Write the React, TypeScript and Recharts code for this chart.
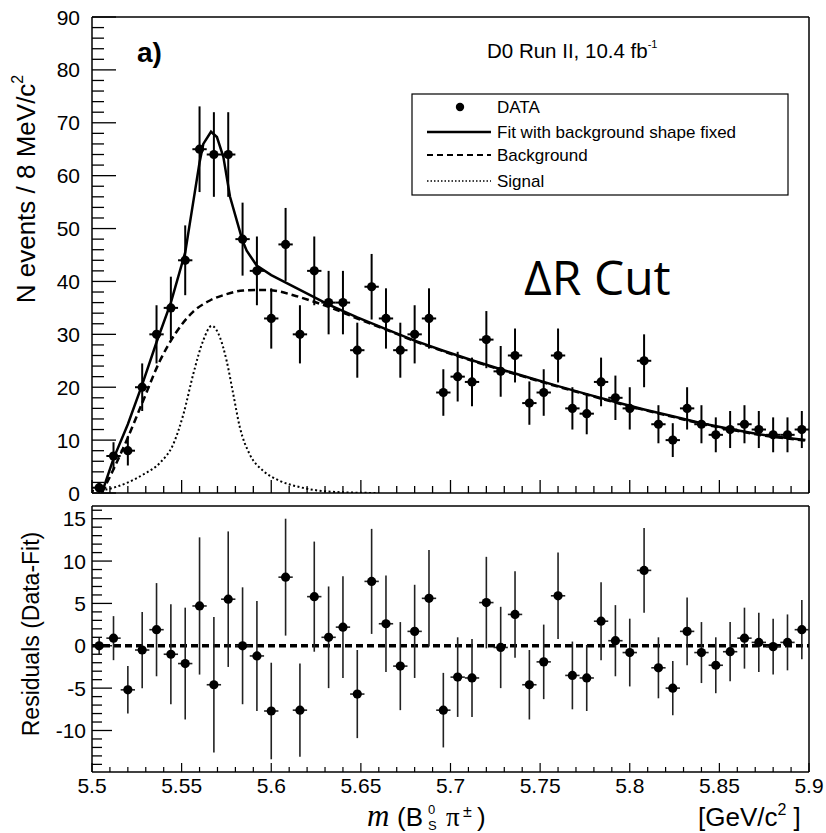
import React from 'react';
import { ComposedChart, Line, Scatter, XAxis, YAxis, ErrorBar, ReferenceLine } from 'recharts';

// ---- data ----
const binCenters = [5.504, 5.512, 5.52, 5.528, 5.536, 5.544, 5.552, 5.56, 5.568, 5.576,
  5.584, 5.592, 5.6, 5.608, 5.616, 5.624, 5.632, 5.64, 5.648, 5.656,
  5.664, 5.672, 5.68, 5.688, 5.696, 5.704, 5.712, 5.72, 5.728, 5.736,
  5.744, 5.752, 5.76, 5.768, 5.776, 5.784, 5.792, 5.8, 5.808, 5.816,
  5.824, 5.832, 5.84, 5.848, 5.856, 5.864, 5.872, 5.88, 5.888, 5.896];
const counts = [1, 7, 8, 20, 30, 35, 44, 65, 64, 64,
  48, 42, 33, 47, 30, 42, 36, 36, 27, 39,
  33, 27, 30, 33, 19, 22, 21, 29, 23, 26,
  17, 19, 26, 16, 15, 21, 18, 16, 25, 13,
  10, 16, 13, 11, 12, 13, 12, 11, 11, 12];
const countErrors = [1.0, 2.6, 2.8, 4.5, 5.5, 5.9, 6.6, 8.1, 8.0, 8.0,
  6.9, 6.5, 5.7, 6.9, 5.5, 6.5, 6.0, 6.0, 5.2, 6.2,
  5.7, 5.2, 5.5, 5.7, 4.4, 4.7, 4.6, 5.4, 4.8, 5.1,
  4.1, 4.4, 5.1, 4.0, 3.9, 4.6, 4.2, 4.0, 5.0, 3.6,
  3.2, 4.0, 3.6, 3.3, 3.5, 3.6, 3.5, 3.3, 3.3, 3.5];
const residuals = [0, 0.9, -5.2, -0.5, 1.9, -1.0, -2.1, 4.7, -4.6, 5.5,
  0, -1.2, -7.7, 8.1, -7.6, 5.8, 1.0, 2.2, -5.7, 7.6,
  2.6, -2.4, 1.7, 5.6, -7.6, -3.7, -3.8, 5.1, -0.2, 3.7,
  -4.6, -1.9, 5.9, -3.5, -3.8, 2.9, 0.6, -0.8, 8.9, -2.6,
  -5.0, 1.7, -0.8, -2.3, -0.7, 0.9, 0.4, -0.1, 0.4, 1.9];
const binHalfWidth = 0.004;

const fitX = [5.5055, 5.512, 5.52, 5.528, 5.536, 5.544, 5.552, 5.556, 5.56, 5.5621, 5.5664, 5.5697, 5.5733, 5.577, 5.584,
  5.5863, 5.5919, 5.6, 5.616, 5.632, 5.648, 5.664, 5.68, 5.696, 5.712, 5.728, 5.744, 5.76, 5.776, 5.792,
  5.808, 5.824, 5.84, 5.856, 5.872, 5.888, 5.898];
const fitY = [0, 6.5, 13, 20.5, 28.5, 36, 45.5, 54, 62.5, 66, 68.3, 67.3, 63.5, 56, 47.7,
  45.8, 43, 41.2, 38.4, 35.6, 33.2, 31, 28.8, 26.9, 25.1, 23.4, 21.8, 20.2, 18.7, 17.2,
  15.8, 14.5, 13.2, 12.1, 11.1, 10.4, 10.0];

const bkgX = [5.5055, 5.512, 5.5194, 5.5286, 5.5379, 5.5472, 5.5565, 5.5658, 5.5751, 5.5844, 5.5937, 5.6011, 5.6123,
  5.6235, 5.632, 5.648, 5.664, 5.68, 5.696, 5.712, 5.728, 5.744, 5.76, 5.776, 5.792, 5.808, 5.824, 5.84,
  5.856, 5.872, 5.888, 5.898];
const bkgY = [0, 4.5, 10, 17.5, 25, 30.5, 34.3, 36.4, 37.6, 38.3, 38.4, 38.3, 37.4,
  36.2, 35.2, 33.0, 30.9, 28.7, 26.8, 25.0, 23.3, 21.7, 20.1, 18.6, 17.1, 15.7, 14.4, 13.1,
  12.0, 11.0, 10.3, 9.9];

const sigX = [5.5, 5.5067, 5.5194, 5.5286, 5.5379, 5.5453, 5.551, 5.5565, 5.562, 5.5668, 5.5714, 5.5751, 5.5788,
  5.5825, 5.588, 5.5955, 5.6048, 5.616, 5.631, 5.649, 5.66];
const sigY = [0.4, 0.6, 1.9, 3.5, 5.7, 9.2, 14.9, 22.5, 28.8, 31.6, 29.4, 25, 18.7,
  12.4, 7.3, 4.2, 2.3, 1.1, 0.3, 0.05, 0];

// ---- axis ticks ----
const xTicks = [5.5, 5.51, 5.52, 5.53, 5.54, 5.55, 5.56, 5.57, 5.58, 5.59, 5.6, 5.61, 5.62, 5.63, 5.64, 5.65,
  5.66, 5.67, 5.68, 5.69, 5.7, 5.71, 5.72, 5.73, 5.74, 5.75, 5.76, 5.77, 5.78, 5.79, 5.8, 5.81, 5.82, 5.83,
  5.84, 5.85, 5.86, 5.87, 5.88, 5.89, 5.9];
const yTicksTop = [0, 2, 4, 6, 8, 10, 12, 14, 16, 18, 20, 22, 24, 26, 28, 30, 32, 34, 36, 38, 40, 42, 44, 46, 48,
  50, 52, 54, 56, 58, 60, 62, 64, 66, 68, 70, 72, 74, 76, 78, 80, 82, 84, 86, 88, 90];
const yTicksRes = [-14, -13, -12, -11, -10, -9, -8, -7, -6, -5, -4, -3, -2, -1, 0, 1, 2, 3, 4, 5, 6, 7, 8, 9, 10,
  11, 12, 13, 14, 15, 16];

const topPoints = binCenters.map((x, i) => ({ x, y: counts[i], ey: countErrors[i], ex: binHalfWidth }));
const resPoints = binCenters.map((x, i) => ({ x, y: residuals[i], ey: countErrors[i], ex: binHalfWidth }));
const fitData = fitX.map((x, i) => ({ x, y: fitY[i] }));
const bkgData = bkgX.map((x, i) => ({ x, y: bkgY[i] }));
const sigData = sigX.map((x, i) => ({ x, y: sigY[i] }));

const FONT = '"Liberation Sans", Arial, Helvetica, sans-serif';
const SERIF = '"Liberation Serif", "Times New Roman", serif';

const isMajorX = (v: number) => Math.round(v * 100) % 5 === 0;
const fmtX = (v: number) => String(Number(v.toFixed(2)));

const TopXTick = (props: any) => {
  const { x, y, payload } = props;
  const major = isMajorX(payload.value);
  return <line x1={x} x2={x} y1={y} y2={y - (major ? 13 : 7)} stroke="#000" strokeWidth={1.3} />;
};
const ResXTick = (props: any) => {
  const { x, y, payload } = props;
  const major = isMajorX(payload.value);
  return (
    <g>
      <line x1={x} x2={x} y1={y} y2={y - (major ? 9 : 5)} stroke="#000" strokeWidth={1.2} />
      {major && (
        <text x={x} y={y + 21} textAnchor="middle" fontSize={21} fontFamily={FONT} fill="#000">{fmtX(payload.value)}</text>
      )}
    </g>
  );
};
const TopYTick = (props: any) => {
  const { x, y, payload } = props;
  const major = payload.value % 10 === 0;
  return (
    <g>
      <line x1={x} x2={x + (major ? 24 : 12)} y1={y} y2={y} stroke="#000" strokeWidth={1.3} />
      {major && (
        <text x={x - 12} y={y + 7.5} textAnchor="end" fontSize={21} fontFamily={FONT} fill="#000">{payload.value}</text>
      )}
    </g>
  );
};
const ResYTick = (props: any) => {
  const { x, y, payload } = props;
  const major = payload.value % 5 === 0;
  return (
    <g>
      <line x1={x} x2={x + (major ? 20 : 10)} y1={y} y2={y} stroke="#000" strokeWidth={1.3} />
      {major && (
        <text x={x - 6} y={y + 7.5} textAnchor="end" fontSize={21} fontFamily={FONT} fill="#000">{payload.value}</text>
      )}
    </g>
  );
};

const Dot = (props: any) => <circle cx={props.cx} cy={props.cy} r={4.6} fill="#000" />;

export default function App() {
  return (
    <div style={{ position: 'absolute', left: 0, top: 0, width: 826, height: 833, background: '#fff' }}>
      <div style={{ position: 'absolute', left: 0, top: 500 }}>
        <ComposedChart width={826} height={333} margin={{ top: 6, right: 17, bottom: 0, left: 0 }}>
          <XAxis dataKey="x" type="number" domain={[5.5, 5.9]} allowDataOverflow ticks={xTicks} interval={0}
            height={61} tickSize={0} tickMargin={0} tickLine={false} tick={<ResXTick />}
            axisLine={{ stroke: '#000', strokeWidth: 1.5 }} />
          <YAxis type="number" domain={[-14.9, 16.5]} allowDataOverflow ticks={yTicksRes} interval={0} width={92}
            tickSize={0} tickMargin={0} tickLine={false} tick={<ResYTick />}
            axisLine={{ stroke: '#000', strokeWidth: 1.5 }} />
          <ReferenceLine y={16.5} stroke="#000" strokeWidth={1.5} />
          <ReferenceLine x={5.9} stroke="#000" strokeWidth={1.5} />
          <ReferenceLine y={0} stroke="#000" strokeWidth={3.5} strokeDasharray="7 4" />
          <Scatter data={resPoints} dataKey="y" shape={<Dot />} isAnimationActive={false}>
            <ErrorBar dataKey="ey" direction="y" width={0} stroke="#222" strokeWidth={1.6} />
            <ErrorBar dataKey="ex" direction="x" width={0} stroke="#222" strokeWidth={1.6} />
          </Scatter>
        </ComposedChart>
      </div>
      <div style={{ position: 'absolute', left: 0, top: 0 }}>
        <ComposedChart width={826} height={504} margin={{ top: 17, right: 17, bottom: 0, left: 0 }}>
          <XAxis dataKey="x" type="number" domain={[5.5, 5.9]} allowDataOverflow ticks={xTicks} interval={0}
            height={11} tickSize={0} tickMargin={0} tickLine={false} tick={<TopXTick />}
            axisLine={{ stroke: '#000', strokeWidth: 1.5 }} />
          <YAxis type="number" domain={[0, 90]} allowDataOverflow ticks={yTicksTop} interval={0} width={92}
            tickSize={0} tickMargin={0} tickLine={false} tick={<TopYTick />}
            axisLine={{ stroke: '#000', strokeWidth: 1.5 }} />
          <ReferenceLine y={90} stroke="#000" strokeWidth={1.5} />
          <ReferenceLine x={5.9} stroke="#000" strokeWidth={1.5} />
          <Line data={sigData} dataKey="y" type="monotone" stroke="#000" strokeWidth={2} strokeDasharray="2 2.5"
            dot={false} isAnimationActive={false} />
          <Line data={bkgData} dataKey="y" type="monotone" stroke="#000" strokeWidth={2.5} strokeDasharray="7 4"
            dot={false} isAnimationActive={false} />
          <Line data={fitData} dataKey="y" type="linear" stroke="#000" strokeWidth={2.5}
            dot={false} isAnimationActive={false} />
          <Scatter data={topPoints} dataKey="y" shape={<Dot />} isAnimationActive={false}>
            <ErrorBar dataKey="ey" direction="y" width={0} stroke="#000" strokeWidth={2} />
            <ErrorBar dataKey="ex" direction="x" width={0} stroke="#000" strokeWidth={2} />
          </Scatter>
        </ComposedChart>
      </div>
      <svg width={826} height={833} style={{ position: 'absolute', left: 0, top: 0, pointerEvents: 'none' }}>
        <g fontFamily={FONT} fill="#000">
          <text x={137} y={62} fontSize={28} fontWeight="bold">a)</text>
          <text x={487} y={58} fontSize={20.5}>D0 Run II, 10.4 fb<tspan fontSize={11} dy={-10}>-1</tspan></text>
          <text x={524} y={295} fontSize={48} fontFamily='"Open Sans", sans-serif'>ΔR Cut</text>
          {/* legend */}
          <rect x={412} y={94} width={376} height={101} fill="#fff" stroke="#000" strokeWidth={1.2} />
          <circle cx={460} cy={107} r={4.2} fill="#000" />
          <text x={497} y={113} fontSize={17}>DATA</text>
          <line x1={427} x2={491} y1={132} y2={132} stroke="#000" strokeWidth={2.5} />
          <text x={497} y={138} fontSize={17}>Fit with background shape fixed</text>
          <line x1={427} x2={491} y1={155} y2={155} stroke="#000" strokeWidth={2.2} strokeDasharray="6 4" />
          <text x={497} y={161} fontSize={17}>Background</text>
          <line x1={427} x2={491} y1={181} y2={181} stroke="#000" strokeWidth={1.6} strokeDasharray="1.5 2" />
          <text x={497} y={187} fontSize={17}>Signal</text>
          {/* axis titles */}
          <text transform="translate(35,189) rotate(-90)" textAnchor="middle" fontSize={26}>
            N events / 8 MeV/c<tspan fontSize={16} dy={-12}>2</tspan>
          </text>
          <text transform="translate(39,634) rotate(-90)" textAnchor="middle" fontSize={23}>Residuals (Data-Fit)</text>
          <text y={826} fontSize={26}>
            <tspan x={367} fontFamily={SERIF} fontStyle="italic" fontSize={31}>m</tspan>
            <tspan x={397}>(B</tspan>
            <tspan x={428} fontSize={13} dy={-12}>0</tspan>
            <tspan x={428} fontSize={13} dy={16}>S</tspan>
            <tspan x={446} dy={-4} fontFamily={SERIF} fontSize={27}>π</tspan>
            <tspan x={463} fontSize={16} dy={-9}>±</tspan>
            <tspan x={477} dy={9}>)</tspan>
          </text>
          <text x={698} y={826} fontSize={26}>[GeV/c<tspan fontSize={16} dy={-11}>2</tspan><tspan dy={11}> ]</tspan></text>
        </g>
      </svg>
    </div>
  );
}
